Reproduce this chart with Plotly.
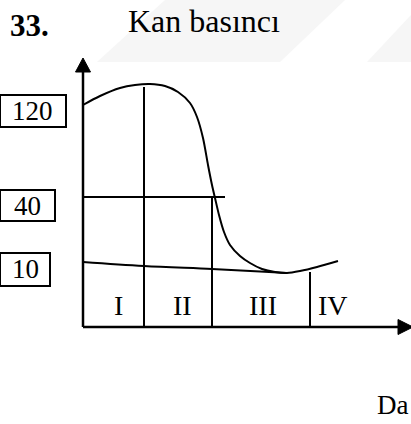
import plotly.graph_objects as go

# Schematic coordinates: t = distance along the vessel (right of the pressure axis),
# h = drawn height above the time axis.
curve_t = [0, 17, 37, 52, 67, 82, 95, 107, 114, 120, 125, 129, 132, 136, 141, 147, 157, 167, 179, 192, 204, 217, 234, 255]
curve_h = [222, 231, 239, 242, 243, 241, 235, 224, 210, 189, 162, 142, 129, 112, 95, 82, 71, 64, 58, 55, 54, 56, 60, 66]

low_t = [0, 61, 129, 177, 204]
low_h = [65, 61, 58, 55.5, 54]

# Region dividers (t position, top height)
divider_t = [61, 129, 227]
divider_top = [240, 130, 55]

# Horizontal guide at the "40" level
guide_h = 130
guide_end = 142

region_labels = ["I", "II", "III", "IV"]
region_t = [35, 99, 180, 250]
region_h = 22

level_labels = ["120", "40", "10"]
level_center_t = [-51, -56, -58]
level_center_h = [216, 121, 58]
level_box_t0 = [-83, -83, -83]
level_box_t1 = [-17, -28, -33]
level_box_h0 = [200, 106, 41]
level_box_h1 = [232, 137, 74]

# Axis extents (arrow base and tip)
y_axis_base, y_axis_tip = 255, 269
x_axis_base, x_axis_tip = 315, 330
arrow_half = 7.5

T_RANGE = [-83, 328]
H_RANGE = [-97, 327]

INK = "black"
SERIF = "Liberation Serif, Times New Roman, serif"

fig = go.Figure()

# faint watermark bands
fig.add_shape(type="path", xref="x", yref="y",
              path="M 14,265 L 197,265 L 262,327 L 82,327 Z",
              fillcolor="#f6f6f6", line_width=0, layer="below")
fig.add_shape(type="path", xref="x", yref="y",
              path="M 284,265 L 328,265 L 328,312 Z",
              fillcolor="#f6f6f6", line_width=0, layer="below")

# pressure curve
fig.add_trace(go.Scatter(x=curve_t, y=curve_h, mode="lines",
                         line=dict(color=INK, width=2, shape="spline", smoothing=0.8),
                         hoverinfo="skip"))
# lower (venous) line
fig.add_trace(go.Scatter(x=low_t, y=low_h, mode="lines",
                         line=dict(color=INK, width=2, shape="spline"),
                         hoverinfo="skip"))
# dividers
for t, top in zip(divider_t, divider_top):
    fig.add_trace(go.Scatter(x=[t, t], y=[0, top], mode="lines",
                             line=dict(color=INK, width=2), hoverinfo="skip"))
# guide
fig.add_trace(go.Scatter(x=[0, guide_end], y=[guide_h, guide_h], mode="lines",
                         line=dict(color=INK, width=2), hoverinfo="skip"))

# axes with arrows
fig.add_trace(go.Scatter(x=[0, 0], y=[0, y_axis_base], mode="lines",
                         line=dict(color=INK, width=2.5), hoverinfo="skip"))
fig.add_trace(go.Scatter(x=[-arrow_half, arrow_half, 0, -arrow_half],
                         y=[y_axis_base, y_axis_base, y_axis_tip, y_axis_base],
                         mode="lines", fill="toself", fillcolor=INK,
                         line=dict(color=INK, width=1), hoverinfo="skip"))
fig.add_trace(go.Scatter(x=[0, x_axis_base], y=[0, 0], mode="lines",
                         line=dict(color=INK, width=2.5), hoverinfo="skip"))
fig.add_trace(go.Scatter(x=[x_axis_base, x_axis_base, x_axis_tip, x_axis_base],
                         y=[-arrow_half, arrow_half, 0, -arrow_half],
                         mode="lines", fill="toself", fillcolor=INK,
                         line=dict(color=INK, width=1), hoverinfo="skip"))

# level boxes
for lab, ct, ch, t0, t1, h0, h1 in zip(level_labels, level_center_t, level_center_h,
                                       level_box_t0, level_box_t1, level_box_h0, level_box_h1):
    fig.add_shape(type="rect", xref="x", yref="y", x0=t0, x1=t1, y0=h0, y1=h1,
                  line=dict(color=INK, width=2), fillcolor="rgba(0,0,0,0)")
    fig.add_annotation(x=ct, y=ch, text=lab, showarrow=False,
                       font=dict(family=SERIF, size=27, color=INK))

# region labels
for lab, t in zip(region_labels, region_t):
    fig.add_annotation(x=t, y=region_h, text=lab, showarrow=False,
                       font=dict(family=SERIF, size=28, color=INK))

fig.add_annotation(x=-54, y=302, text="<b>33.</b>", showarrow=False,
                   font=dict(family=SERIF, size=31, color=INK))
fig.add_annotation(x=121, y=306, text="Kan basıncı", showarrow=False,
                   font=dict(family=SERIF, size=32, color=INK))
fig.add_annotation(x=327, y=-78, text="Da", showarrow=False, xanchor="right",
                   font=dict(family=SERIF, size=27, color=INK))

fig.update_xaxes(range=T_RANGE, visible=False, fixedrange=True)
fig.update_yaxes(range=H_RANGE, visible=False, fixedrange=True)
fig.update_layout(width=411, height=424, margin=dict(l=0, r=0, t=0, b=0),
                  paper_bgcolor="white", plot_bgcolor="white", showlegend=False)

fig.write_html("out.html")
